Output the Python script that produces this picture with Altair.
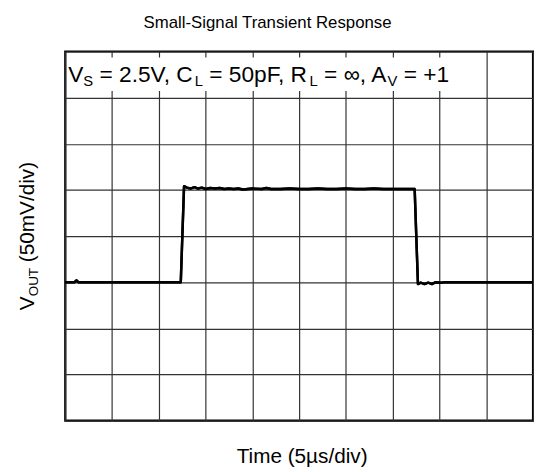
import altair as alt
import pandas as pd

FONT = "Liberation Sans"

TITLE = "Small-Signal Transient Response"
X_TITLE = "Time (5µs/div)"
Y_TITLE_PARTS = [("V", False), ("OUT", True), (" (50mV/div)", False)]
LABEL_PARTS = [("V", False), ("S", True), (" = 2.5V, C", False), ("L", True),
               (" = 50pF, R", False), ("L", True), (" = ∞, A", False),
               ("V", True), (" = +1", False)]

# trace (time in µs, 5 µs/div; output in mV, 50 mV/div, low level = 0)
time_us = [0.0, 1.0, 1.2, 1.4, 12.35, 12.7, 13.0, 13.4, 13.8, 14.2, 14.6, 15.0,
           15.5, 16.0, 16.5, 17.0, 17.5, 18.0, 18.5, 19.0, 20.0, 21.0, 21.5,
           22.0, 23.0, 24.0, 25.0, 26.0, 27.0, 28.0, 29.0, 30.0, 31.0, 32.0,
           33.0, 34.0, 35.0, 36.0, 37.35, 37.7, 38.0, 38.4, 38.8, 39.2, 39.6,
           40.2, 40.6, 41.0, 50.0]
vout_mv = [0.0, 0.0, 2.0, 0.0, 0.0, 104.0, 102.5, 101.5, 103.0, 101.5, 102.5,
           101.0, 102.0, 101.5, 102.0, 101.0, 101.5, 101.0, 101.5, 100.5, 101.5,
           101.0, 102.0, 101.0, 101.0, 101.5, 101.0, 101.0, 101.5, 101.0, 101.0,
           101.5, 101.0, 101.0, 101.5, 101.0, 101.0, 101.0, 101.0, -2.0, -0.5,
           -2.0, -0.5, -2.0, 0.0, -0.5, 0.0, 0.0, 0.0]

x_grid = list(range(0, 55, 5))
y_grid = list(range(-150, 300, 50))

W, H = 474, 374

# Arial / Liberation Sans advance widths (per 1000 em)
ADV = {' ': 278, '(': 333, ')': 333, '+': 584, ',': 278, '.': 278, '/': 278,
       '=': 584, 'A': 667, 'C': 722, 'F': 611, 'L': 556, 'O': 778, 'R': 722,
       'S': 667, 'T': 611, 'U': 722, 'V': 667, 'd': 556, 'i': 222, 'm': 833,
       'p': 556, 'v': 500, 's': 500, 'µ': 576, '∞': 713}
for d in "0123456789":
    ADV[d] = 556


def text_w(s, fs):
    return sum(ADV.get(c, 556) for c in s) * fs / 1000.0


dummy = pd.DataFrame({"a": [0]})


def seg_layers(parts, x0, y0, size, sub_scale=0.65, sub_shift=4.0, angle=0):
    layers = []
    pos = 0.0
    for txt, sub in parts:
        fs = size * sub_scale if sub else size
        lead = len(txt) - len(txt.lstrip(" "))
        pos += text_w(" " * lead, fs)
        body = txt.lstrip(" ")
        if angle == 0:
            x, y = x0 + pos, y0 + (sub_shift if sub else 0)
        else:
            x, y = x0 + (sub_shift if sub else 0), y0 - pos
        layers.append(
            alt.Chart(dummy).mark_text(
                text=body, fontSize=fs, font=FONT, align="left",
                baseline="alphabetic", angle=angle, color="black"
            ).encode(x=alt.value(x), y=alt.value(y))
        )
        pos += text_w(body, fs)
    return layers, pos


df = pd.DataFrame({"t": time_us, "v": vout_mv})

x_enc = alt.X("t:Q", scale=alt.Scale(domain=[0, 50], nice=False, zero=False),
              axis=alt.Axis(values=x_grid, grid=True, labels=False, ticks=False,
                            domain=False, title=None, gridColor="#333333",
                            gridWidth=1.2, gridOpacity=1))
y_enc = alt.Y("v:Q", scale=alt.Scale(domain=[-150, 250], nice=False, zero=False),
              axis=alt.Axis(values=y_grid, grid=True, labels=False, ticks=False,
                            domain=False, title=None, gridColor="#333333",
                            gridWidth=1.2, gridOpacity=1))

box = alt.Chart(dummy).mark_rect(color="white").encode(
    x=alt.value(2), x2=alt.value(404), y=alt.value(6), y2=alt.value(40))

trace = alt.Chart(df).mark_line(color="black", strokeWidth=2.5,
                                strokeJoin="round").encode(x=x_enc, y=y_enc)

LABEL_FS = 23
label_layers, _ = seg_layers(LABEL_PARTS, 3, 31, LABEL_FS, sub_shift=4)

YT_FS = 21
ylen = sum(text_w(t, YT_FS * (0.65 if s else 1)) for t, s in Y_TITLE_PARTS)
ytitle_layers, _ = seg_layers(Y_TITLE_PARTS, -32, H / 2 + ylen / 2, YT_FS,
                              sub_shift=4, angle=270)

title = alt.Chart(dummy).mark_text(
    text=TITLE, fontSize=17, font=FONT, align="center", baseline="alphabetic",
    color="black").encode(x=alt.value(205), y=alt.value(-24))

xtitle = alt.Chart(dummy).mark_text(
    text=X_TITLE, fontSize=21, font=FONT, align="center", baseline="alphabetic",
    color="black").encode(x=alt.value(W / 2 + 3), y=alt.value(H + 43))

chart = alt.layer(trace, box, trace, *label_layers, *ytitle_layers, title,
                  xtitle).properties(
    width=W, height=H,
    autosize=alt.AutoSizeParams(type="none"),
    padding={"left": 58, "top": 41, "right": 1, "bottom": 49},
    background="white",
).configure_view(stroke="black", strokeWidth=2.2)

chart.save("out.html", embed_options={"renderer": "svg", "actions": False})
